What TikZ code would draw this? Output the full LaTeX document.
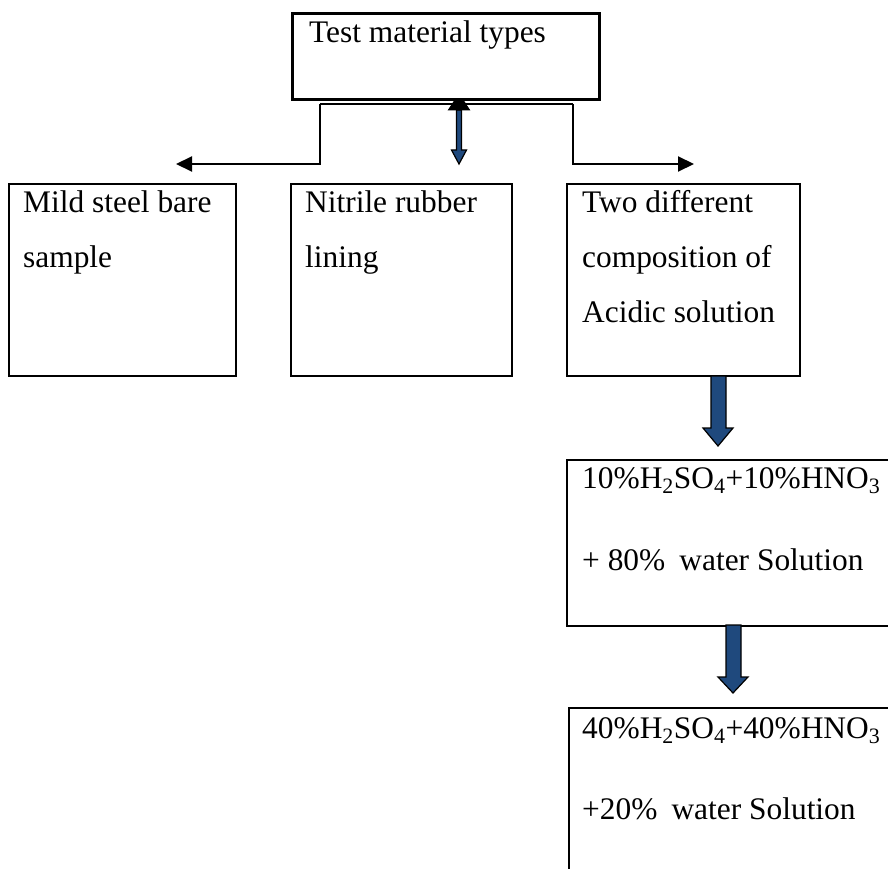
\documentclass[tikz,border=0pt]{standalone}
\usepackage{fontspec}
\setmainfont{Liberation Serif}
\usetikzlibrary{arrows.meta}
\definecolor{arrblue}{RGB}{31,73,125}
\begin{document}
\begin{tikzpicture}[x=1pt,y=-1pt,
  boxthin/.style={draw=black,line width=2.2pt,fill=white,rectangle,inner sep=0pt,anchor=north west},
  boxthick/.style={draw=black,line width=3.4pt,fill=white,rectangle,inner sep=0pt,anchor=north west},
  txt/.style={inner sep=0pt,anchor=base west,font=\fontsize{31.4}{55}\selectfont},
  conn/.style={draw=black,line width=2pt},
  connarrow/.style={conn,-{Triangle[length=16pt,width=15pt]}},
  blockarrow/.style={fill=arrblue,draw=black,line width=1.2pt,line join=miter}]
\useasboundingbox (0,0) rectangle (888,869);
\clip (0,0) rectangle (888,869);
\fill[white] (0,0) rectangle (888,869);

% centre double block arrow (top head partly hidden by the box)
\draw[blockarrow] (456.5,110) -- (461.5,110) -- (461.5,150) -- (466.5,150) -- (459,164)
  -- (451.5,150) -- (456.5,150) -- cycle;
\draw[fill=black,draw=black,line width=1pt] (448.5,110) -- (469.5,110) -- (459,94) -- cycle;

% boxes
\node[boxthick,minimum width=307pt,minimum height=86pt] (top) at (291,12) {};
\node[boxthin,minimum width=227pt,minimum height=192pt] (mild) at (8,183) {};
\node[boxthin,minimum width=221pt,minimum height=192pt] (nitrile) at (290,183) {};
\node[boxthin,minimum width=233pt,minimum height=192pt] (acid) at (566,183) {};
\node[boxthin,minimum width=330pt,minimum height=166pt] (sol1) at (566,459) {};
\node[boxthin,minimum width=330pt,minimum height=200pt] (sol2) at (568,707) {};

% connectors from the top box
\coordinate (jl) at (320,104);
\coordinate (jr) at (573,104);
\coordinate (tl) at (176,164);
\coordinate (tr) at (694,164);
\draw[conn] (jl) -- (jr);
\draw[connarrow] (jl) -- (jl |- tl) -- (tl);
\draw[connarrow] (jr) -- (jr |- tr) -- (tr);

% block arrows down the right column
\draw[blockarrow] (711,376) -- (726,376) -- (726,428) -- (733,428) -- (718,446)
  -- (703,428) -- (711,428) -- cycle;
\draw[blockarrow] (726,625) -- (741,625) -- (741,677) -- (748,677) -- (733,693)
  -- (718,677) -- (726,677) -- cycle;

% texts
\node[txt] (ttop) at (309,43) {Test material types};
\node[txt] (tm1) at (23,212) {Mild steel bare};
\node[txt] (tm2) at (23,267) {sample};
\node[txt] (tn1) at (305,212) {Nitrile rubber};
\node[txt] (tn2) at (305,267) {lining};
\node[txt] (ta1) at (582,212) {Two different};
\node[txt] (ta2) at (582,267) {composition of};
\node[txt] (ta3) at (582,322) {Acidic solution};
\node[txt] (ts1) at (582,488) {10\%H\textsubscript{2}SO\textsubscript{4}+10\%HNO\textsubscript{3}};
\node[txt] (ts2) at (582,570) {+ 80\%\hspace{0.45em}water Solution};
\node[txt] (tu1) at (582,738) {40\%H\textsubscript{2}SO\textsubscript{4}+40\%HNO\textsubscript{3}};
\node[txt] (tu2) at (582,819) {+20\%\hspace{0.45em}water Solution};
\end{tikzpicture}
\end{document}
